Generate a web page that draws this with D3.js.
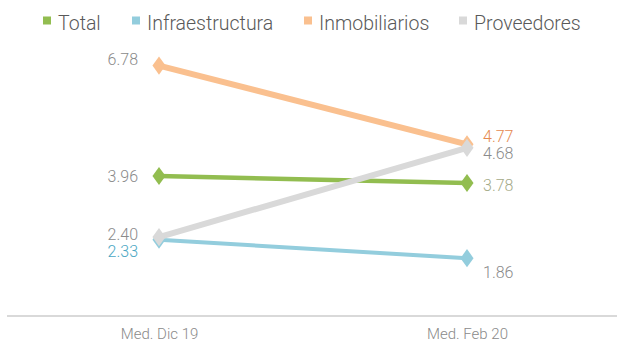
<!DOCTYPE html>
<html>
<head>
<meta charset="utf-8">
<script src="https://cdn.jsdelivr.net/npm/d3@7"></script>
<style>
  html, body { margin: 0; padding: 0; background: #ffffff; }
  svg { display: block; font-family: Roboto, "Liberation Sans", sans-serif; font-weight: 300; }
</style>
</head>
<body>
<svg id="chart" width="617" height="342"></svg>
<script>
// Periods on the x axis
const categories = ["Med. Dic 19", "Med. Feb 20"];

// Series names, in drawing order
const seriesNames = ["Total", "Infraestructura", "Inmobiliarios", "Proveedores"];

// Values per series, one per period
const totalValues = [3.96, 3.78];
const infraValues = [2.33, 1.86];
const inmobValues = [6.78, 4.77];
const provValues = [2.40, 4.68];

const seriesValues = [totalValues, infraValues, inmobValues, provValues];

// Styling for each series (colour, stroke, label colours and label nudges)
const styles = {
  "Total":           { color: "#92bd50", width: 4.5, labelColor: ["#8a8a8a", "#a4aa88"], dy: [0, 2] },
  "Infraestructura": { color: "#93cddd", width: 4,   labelColor: ["#4ba7c3", "#8a8a8a"], dy: [12, 14] },
  "Inmobiliarios":   { color: "#fac08f", width: 6,   labelColor: ["#8a8a8a", "#e5894f"], dy: [-6, -8] },
  "Proveedores":     { color: "#d9d9d9", width: 6,   labelColor: ["#8a8a8a", "#8a8a8a"], dy: [-3, 6] }
};

const svg = d3.select("#chart");

const x = d3.scalePoint().domain(categories).range([159, 467]);
const y = d3.scaleLinear().domain([0, 7]).range([331, 57]);

// Baseline rule
svg.append("line")
  .attr("x1", 7).attr("x2", 617)
  .attr("y1", 316).attr("y2", 316)
  .attr("stroke", "#d9d9d9").attr("stroke-width", 2);

// Category labels
const xAxis = d3.axisBottom(x).tickSize(0).tickPadding(0);
const axisG = svg.append("g").attr("transform", "translate(0,328)").call(xAxis);
axisG.select(".domain").remove();
axisG.selectAll("text")
  .attr("dy", null)
  .attr("y", 11)
  .attr("fill", "#8a8a8a")
  .style("font-size", "15px")
  .style("font-family", "Roboto, 'Liberation Sans', sans-serif")
  .style("font-weight", 300);

const line = d3.line()
  .x((d, i) => x(categories[i]))
  .y(d => y(d));

const diamond = d3.symbol().type(d3.symbolDiamond).size(95);

seriesNames.forEach((name, si) => {
  const vals = seriesValues[si];
  const st = styles[name];
  const g = svg.append("g");
  g.append("path")
    .datum(vals)
    .attr("d", line)
    .attr("fill", "none")
    .attr("stroke", st.color)
    .attr("stroke-width", st.width);
  g.selectAll("path.marker")
    .data(vals)
    .join("path")
    .attr("class", "marker")
    .attr("d", diamond)
    .attr("transform", (d, i) => `translate(${x(categories[i])},${y(d)}) scale(1.25,1)`)
    .attr("fill", st.color);
});

// Value labels: left of the first point, right of the last point
seriesNames.forEach((name, si) => {
  const vals = seriesValues[si];
  const st = styles[name];
  vals.forEach((v, i) => {
    svg.append("text")
      .attr("x", x(categories[i]) + (i === 0 ? -21 : 16))
      .attr("y", y(v) + st.dy[i])
      .attr("dy", "0.35em")
      .attr("text-anchor", i === 0 ? "end" : "start")
      .attr("fill", st.labelColor[i])
      .style("font-size", "16px")
      .text(v.toFixed(2));
  });
});

// Legend
const legendX = [43, 132, 304, 459];
const legend = svg.append("g");
seriesNames.forEach((name, i) => {
  legend.append("rect")
    .attr("x", legendX[i]).attr("y", 16.5)
    .attr("width", 8).attr("height", 8)
    .attr("fill", styles[name].color);
  legend.append("text")
    .attr("x", legendX[i] + 15)
    .attr("y", 30)
    .attr("fill", "#595959")
    .style("font-size", "19.5px")
    .text(name);
});
</script>
</body>
</html>
